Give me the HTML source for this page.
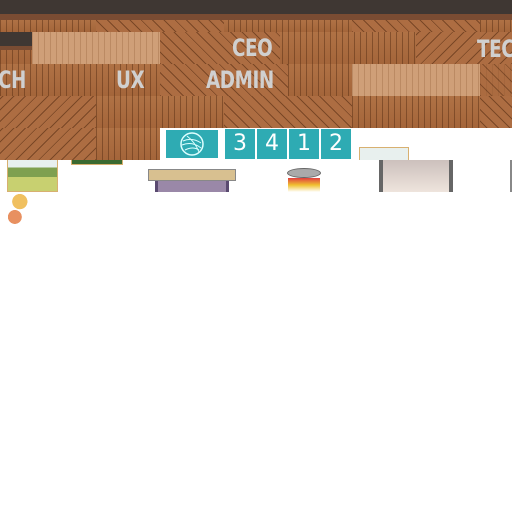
<!DOCTYPE html>
<html><head><meta charset="utf-8">
<style>
html,body{margin:0;padding:0;background:#fff;width:512px;height:512px;overflow:hidden;position:relative;font-family:"Liberation Sans",sans-serif}
.abs{position:absolute}
.wood{background-color:#a9683d;
 background-image:repeating-linear-gradient(90deg,rgba(80,40,15,.45) 0 1px,transparent 1px 6px),
 linear-gradient(#b07245,#a4653a);}
.diag{background-color:#ad6d42;
 background-image:repeating-linear-gradient(45deg,rgba(80,40,15,.55) 0 1px,transparent 1px 8px);}
.diag2{background-color:#ad6d42;
 background-image:repeating-linear-gradient(-45deg,rgba(80,40,15,.55) 0 1px,transparent 1px 8px);}
.light{background-color:#cf9f78;
 background-image:repeating-linear-gradient(90deg,rgba(150,100,60,.35) 0 1px,transparent 1px 6px);}
.lab{position:absolute;color:#d0d0d0;font-family:"DejaVu Sans Condensed","Liberation Sans Narrow","Liberation Sans",sans-serif;font-weight:bold;font-size:24px;line-height:24px;letter-spacing:-0.5px;transform:scaleX(0.85);transform-origin:left top}
.btn{position:absolute;background:#2eabb3;color:#fff;font-size:22px;text-align:center;line-height:30px;font-family:"DejaVu Sans","Liberation Sans",sans-serif}
</style></head><body>
<div class="abs" style="left:0;top:0;width:512px;height:14px;background:#3f3733"></div>
<div class="abs" style="left:0;top:14px;width:512px;height:6px;background:#7a4c33"></div>
<div class="abs wood" style="left:0;top:20px;width:512px;height:12px"></div>
<div class="abs diag" style="left:96px;top:20px;width:128px;height:12px"></div>
<div class="abs diag" style="left:352px;top:20px;width:128px;height:12px"></div>

<div class="abs wood" style="left:0;top:32px;width:512px;height:32px"></div>
<div class="abs light" style="left:32px;top:32px;width:128px;height:32px"></div>
<div class="abs diag" style="left:160px;top:32px;width:120px;height:32px"></div>
<div class="abs diag2" style="left:416px;top:32px;width:96px;height:32px"></div>
<div class="abs" style="left:0;top:32px;width:32px;height:14px;background:#3f3733"></div>
<div class="abs" style="left:0;top:46px;width:32px;height:4px;background:#7a4c33"></div>

<div class="abs wood" style="left:0;top:64px;width:512px;height:32px"></div>
<div class="abs diag" style="left:160px;top:64px;width:128px;height:32px"></div>
<div class="abs light" style="left:352px;top:64px;width:128px;height:32px"></div>
<div class="abs diag" style="left:480px;top:64px;width:32px;height:32px;opacity:.8"></div>

<div class="abs diag" style="left:0;top:96px;width:512px;height:32px"></div>
<div class="abs wood" style="left:96px;top:96px;width:128px;height:32px"></div>
<div class="abs wood" style="left:352px;top:96px;width:128px;height:32px"></div>
<div class="abs diag2" style="left:0;top:96px;width:96px;height:32px"></div>

<div class="abs diag2" style="left:0;top:128px;width:96px;height:32px"></div>
<div class="abs wood" style="left:96px;top:128px;width:64px;height:32px"></div>

<div class="lab" style="left:232px;top:36px">CEO</div>
<div class="lab" style="left:477px;top:37px">TEC</div>
<div class="lab" style="left:-2px;top:68px">CH</div>
<div class="lab" style="left:116px;top:68px">UX</div>
<div class="lab" style="left:206px;top:68px">ADMIN</div>

<div class="btn" style="left:166px;top:130px;width:52px;height:28px">
<svg width="26" height="26" viewBox="0 0 26 26" style="margin-top:1px"><circle cx="13" cy="13" r="11" fill="none" stroke="#dff" stroke-width="1.5"/><path d="M4 10q9-4 18 2M3 14q10-4 19 3M6 19q8-4 14 0M8 5q8 6 12 16" fill="none" stroke="#dff" stroke-width="1"/></svg></div>
<div class="btn" style="left:225px;top:129px;width:30px;height:30px">3</div>
<div class="btn" style="left:257px;top:129px;width:30px;height:30px">4</div>
<div class="btn" style="left:289px;top:129px;width:30px;height:30px">1</div>
<div class="btn" style="left:321px;top:129px;width:30px;height:30px">2</div>

<div class="abs" style="left:7px;top:160px;width:49px;height:31px;border:1px solid #d8b070;border-top:none;background:linear-gradient(#e8f0f0 0 25%,#7fa050 25% 55%,#c8d070 55%)"></div>
<div class="abs" style="left:71px;top:160px;width:50px;height:4px;background:#3a6a30;border:1px solid #d8b070;border-top:none"></div>
<div class="abs" style="left:0;top:192px;width:33px;height:32px;background:radial-gradient(circle at 60% 30%,#f0c060 0 25%,transparent 26%),radial-gradient(circle at 45% 78%,#e89060 0 22%,transparent 23%)"></div>
<div class="abs" style="left:148px;top:169px;width:88px;height:12px;background:#d8c090;border:1px solid #888;box-sizing:border-box"></div>
<div class="abs" style="left:155px;top:181px;width:74px;height:11px;background:#9a88a8;border-left:3px solid #5a4a70;border-right:3px solid #5a4a70;box-sizing:border-box"></div>
<div class="abs" style="left:287px;top:168px;width:34px;height:10px;border-radius:50%;background:#aaa;border:1px solid #666;box-sizing:border-box"></div>
<div class="abs" style="left:288px;top:178px;width:32px;height:14px;background:linear-gradient(#e04040,#f0c030 50%,#fff)"></div>
<div class="abs" style="left:359px;top:147px;width:50px;height:13px;border:1px solid #d8b070;border-bottom:none;background:#e8f0ee;box-sizing:border-box"></div>
<div class="abs" style="left:379px;top:160px;width:74px;height:32px;background:linear-gradient(#ccc0bc,#eee4dc);border-left:4px solid #666;border-right:4px solid #666;box-sizing:border-box"></div>
<div class="abs" style="left:510px;top:160px;width:2px;height:32px;background:#888"></div>
</body></html>
